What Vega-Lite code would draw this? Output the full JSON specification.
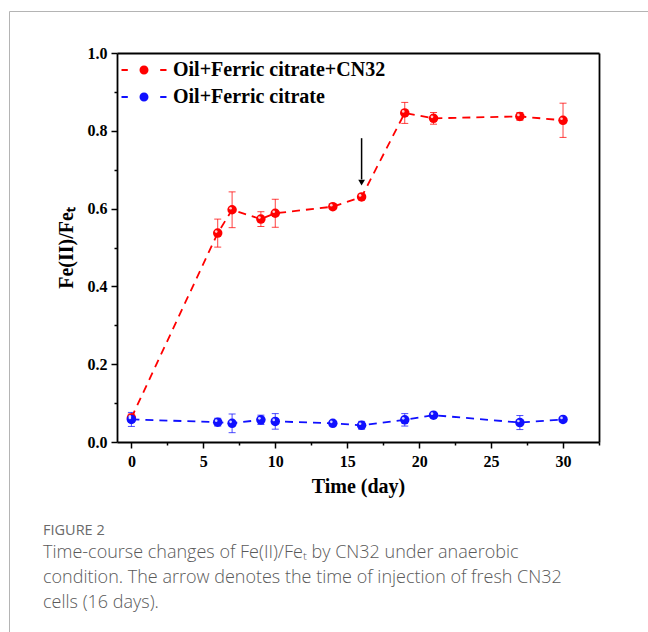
{
  "$schema": "https://vega.github.io/schema/vega-lite/v6.json",
  "width": 639,
  "height": 621,
  "autosize": "none",
  "padding": {"left": 9, "top": 11, "right": 0, "bottom": 0},
  "background": "white",
  "config": {
    "view": {"stroke": "#b4b4b4", "strokeWidth": 1},
    "font": "Liberation Serif"
  },
  "title": {
    "text": "FIGURE 2",
    "subtitle": [
      "Time-course changes of Fe(II)/Feₜ by CN32 under anaerobic",
      "condition. The arrow denotes the time of injection of fresh CN32",
      "cells (16 days)."
    ],
    "orient": "bottom",
    "anchor": "start",
    "frame": "group",
    "offset": -108,
    "dx": 34,
    "font": "Open Sans",
    "fontSize": 14.5,
    "fontWeight": "normal",
    "color": "#6a6a6a",
    "subtitleFont": "Open Sans",
    "subtitleFontSize": 18,
    "subtitleFontWeight": 300,
    "subtitleColor": "#5a5a5a",
    "subtitleLineHeight": 25,
    "subtitlePadding": 5
  },
  "data": {
    "values": [
      {"series": "Oil+Ferric citrate+CN32", "day": 0, "v": 0.062, "lo": 0.052, "hi": 0.072},
      {"series": "Oil+Ferric citrate+CN32", "day": 6, "v": 0.537, "lo": 0.501, "hi": 0.573},
      {"series": "Oil+Ferric citrate+CN32", "day": 7, "v": 0.597, "lo": 0.551, "hi": 0.643},
      {"series": "Oil+Ferric citrate+CN32", "day": 9, "v": 0.573, "lo": 0.554, "hi": 0.592},
      {"series": "Oil+Ferric citrate+CN32", "day": 10, "v": 0.588, "lo": 0.552, "hi": 0.624},
      {"series": "Oil+Ferric citrate+CN32", "day": 14, "v": 0.605, "lo": 0.601, "hi": 0.609},
      {"series": "Oil+Ferric citrate+CN32", "day": 16, "v": 0.630, "lo": 0.626, "hi": 0.634},
      {"series": "Oil+Ferric citrate+CN32", "day": 19, "v": 0.846, "lo": 0.819, "hi": 0.873},
      {"series": "Oil+Ferric citrate+CN32", "day": 21, "v": 0.832, "lo": 0.817, "hi": 0.847},
      {"series": "Oil+Ferric citrate+CN32", "day": 27, "v": 0.837, "lo": 0.827, "hi": 0.847},
      {"series": "Oil+Ferric citrate+CN32", "day": 30, "v": 0.827, "lo": 0.783, "hi": 0.871},
      {"series": "Oil+Ferric citrate", "day": 0, "v": 0.058, "lo": 0.040, "hi": 0.076},
      {"series": "Oil+Ferric citrate", "day": 6, "v": 0.051, "lo": 0.041, "hi": 0.061},
      {"series": "Oil+Ferric citrate", "day": 7, "v": 0.048, "lo": 0.024, "hi": 0.072},
      {"series": "Oil+Ferric citrate", "day": 9, "v": 0.057, "lo": 0.045, "hi": 0.069},
      {"series": "Oil+Ferric citrate", "day": 10, "v": 0.053, "lo": 0.033, "hi": 0.073},
      {"series": "Oil+Ferric citrate", "day": 14, "v": 0.048, "lo": 0.044, "hi": 0.052},
      {"series": "Oil+Ferric citrate", "day": 16, "v": 0.043, "lo": 0.033, "hi": 0.053},
      {"series": "Oil+Ferric citrate", "day": 19, "v": 0.057, "lo": 0.041, "hi": 0.073},
      {"series": "Oil+Ferric citrate", "day": 21, "v": 0.069, "lo": 0.065, "hi": 0.073},
      {"series": "Oil+Ferric citrate", "day": 27, "v": 0.050, "lo": 0.032, "hi": 0.068},
      {"series": "Oil+Ferric citrate", "day": 30, "v": 0.058, "lo": 0.054, "hi": 0.062}
    ]
  },
  "layer": [
    {
      "mark": {"type": "point", "opacity": 0},
      "encoding": {
        "x": {"field": "day", "type": "quantitative", "scale": {"domain": [-1, 32.5], "range": [108, 590], "nice": false, "zero": false},
          "axis": {"orient": "top", "offset": -42, "domainColor": "black", "domainWidth": 1.8, "ticks": false, "labels": false, "grid": false, "title": null}},
        "y": {"field": "v", "type": "quantitative", "scale": {"domain": [0, 1], "range": [431, 42], "nice": false},
          "axis": {"orient": "right", "offset": -49, "domainColor": "black", "domainWidth": 1.8, "ticks": false, "labels": false, "grid": false, "title": null}}
      }
    },
    {
      "mark": {"type": "rule", "strokeWidth": 1, "opacity": 0.75},
      "encoding": {
        "x": {"field": "day", "type": "quantitative", "axis": null},
        "y": {"field": "lo", "type": "quantitative", "axis": null},
        "y2": {"field": "hi"},
        "color": {"field": "series", "type": "nominal", "legend": null}
      }
    },
    {
      "mark": {"type": "tick", "orient": "horizontal", "size": 7, "thickness": 1, "opacity": 0.75},
      "encoding": {
        "x": {"field": "day", "type": "quantitative", "axis": null},
        "y": {"field": "lo", "type": "quantitative", "axis": null},
        "color": {"field": "series", "type": "nominal", "legend": null}
      }
    },
    {
      "mark": {"type": "tick", "orient": "horizontal", "size": 7, "thickness": 1, "opacity": 0.75},
      "encoding": {
        "x": {"field": "day", "type": "quantitative", "axis": null},
        "y": {"field": "hi", "type": "quantitative", "axis": null},
        "color": {"field": "series", "type": "nominal", "legend": null}
      }
    },
    {
      "mark": {"type": "line", "strokeDash": [8, 6], "strokeWidth": 1.8},
      "encoding": {
        "x": {"field": "day", "type": "quantitative",
          "axis": {"orient": "bottom", "offset": -190, "values": [0, 2.5, 5, 7.5, 10, 12.5, 15, 17.5, 20, 22.5, 25, 27.5, 30, 32.5],
            "labelExpr": "datum.value % 5 === 0 ? format(datum.value, 'd') : ''",
            "tickSize": {"condition": {"test": "datum.value % 5 === 0", "value": 6}, "value": 3},
            "domainColor": "black", "domainWidth": 1.8, "tickColor": "black", "tickWidth": 1.5,
            "labelFont": "Liberation Serif", "labelFontSize": 16, "labelFontWeight": "bold", "labelColor": "black",
            "labelPadding": 5, "labelOverlap": false, "labelFlush": false, "grid": false,
            "title": "Time (day)", "titleFont": "Liberation Serif", "titleFontSize": 20, "titleFontWeight": "bold", "titleColor": "black", "titlePadding": 7}},
        "y": {"field": "v", "type": "quantitative",
          "axis": {"orient": "left", "offset": -108, "values": [0, 0.1, 0.2, 0.3, 0.4, 0.5, 0.6, 0.7, 0.8, 0.9, 1.0],
            "labelExpr": "round(datum.value * 10) % 2 === 0 ? format(datum.value, '.1f') : ''",
            "tickSize": {"condition": {"test": "round(datum.value * 10) % 2 === 0", "value": 6}, "value": 3},
            "domainColor": "black", "domainWidth": 1.8, "tickColor": "black", "tickWidth": 1.5,
            "labelFont": "Liberation Serif", "labelFontSize": 16, "labelFontWeight": "bold", "labelColor": "black",
            "labelPadding": 4, "labelOverlap": false, "labelFlush": false, "grid": false,
            "title": "Fe(II)/Feₜ", "titleFont": "Liberation Serif", "titleFontSize": 20, "titleFontWeight": "bold", "titleColor": "black", "titlePadding": 11}},
        "color": {"field": "series", "type": "nominal", "legend": null,
          "scale": {"domain": ["Oil+Ferric citrate+CN32", "Oil+Ferric citrate"], "range": ["#ff0000", "#1010ff"]}}
      }
    },
    {
      "mark": {"type": "point", "filled": true, "size": 90, "opacity": 1},
      "encoding": {
        "x": {"field": "day", "type": "quantitative", "axis": null},
        "y": {"field": "v", "type": "quantitative", "axis": null},
        "color": {"field": "series", "type": "nominal",
          "legend": {"orient": "none", "legendX": 125, "legendY": 49, "title": null,
            "symbolType": "M-5,-0.22H-3.6V0.22H-5Z M3.6,-0.22H5V0.22H3.6Z M1,0A1,1 0 1,1 -1,0A1,1 0 1,1 1,0Z",
            "symbolSize": 81, "symbolStrokeWidth": 0, "labelOffset": 19, "rowPadding": 7,
            "labelFont": "Liberation Serif", "labelFontSize": 20, "labelFontWeight": "bold", "labelColor": "black", "labelLimit": 400}}
      }
    },
    {
      "mark": {"type": "point", "filled": true, "size": 7, "color": "white", "opacity": 0.8, "xOffset": -1.5, "yOffset": -1.5},
      "encoding": {
        "x": {"field": "day", "type": "quantitative", "axis": null},
        "y": {"field": "v", "type": "quantitative", "axis": null}
      }
    },
    {
      "data": {"values": [{"day": 16, "top": 0.781, "bottom": 0.675}]},
      "mark": {"type": "rule", "color": "black", "strokeWidth": 1.5},
      "encoding": {
        "x": {"field": "day", "type": "quantitative", "axis": null},
        "y": {"field": "top", "type": "quantitative", "axis": null},
        "y2": {"field": "bottom"}
      }
    },
    {
      "data": {"values": [{"day": 16, "tip": 0.667}]},
      "mark": {"type": "point", "shape": "triangle-down", "filled": true, "color": "black", "size": 45, "opacity": 1},
      "encoding": {
        "x": {"field": "day", "type": "quantitative", "axis": null},
        "y": {"field": "tip", "type": "quantitative", "axis": null}
      }
    }
  ],
  "resolve": {"axis": {"x": "independent", "y": "independent"}, "legend": {"color": "independent"}}
}
